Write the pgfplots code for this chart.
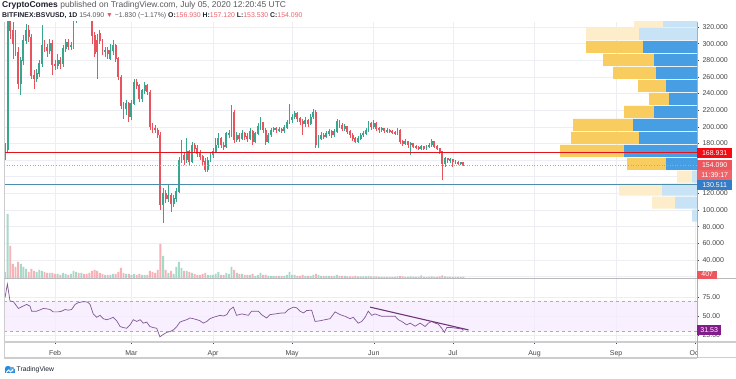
\documentclass[border=0pt]{standalone}
\usepackage{pgfplots}
\pgfplotsset{compat=1.18}
\usepackage{pgfplotstable}
\usepackage{fontspec}
\setmainfont{Liberation Sans}

\definecolor{upc}{RGB}{56,166,140}
\definecolor{dnc}{RGB}{232,84,94}
\definecolor{upv}{RGB}{165,218,200}
\definecolor{dnv}{RGB}{246,178,183}
\definecolor{gridc}{RGB}{236,238,243}
\definecolor{labc}{RGB}{70,70,70}
\definecolor{vpbs}{RGB}{72,158,226}
\definecolor{vpbf}{RGB}{200,226,246}
\definecolor{vpys}{RGB}{249,204,96}
\definecolor{vpyf}{RGB}{253,237,203}
\definecolor{lred}{RGB}{228,18,28}
\definecolor{lblue}{RGB}{78,140,172}
\definecolor{boxred}{RGB}{245,10,20}
\definecolor{boxred2}{RGB}{236,86,92}
\definecolor{boxblue}{RGB}{52,124,200}
\definecolor{boxpur}{RGB}{130,28,138}
\definecolor{rsil}{RGB}{128,88,148}
\definecolor{rsit}{RGB}{112,52,120}
\definecolor{rsib}{RGB}{246,235,254}
\definecolor{rsid}{RGB}{185,165,195}
\definecolor{tvblue}{RGB}{40,140,220}
\definecolor{hdr}{RGB}{30,34,45}
\definecolor{hdrg}{RGB}{90,90,95}
\definecolor{hred}{RGB}{238,98,108}
\definecolor{frame}{RGB}{205,205,208}

\pgfplotstableread{
d o h l c v
12 170 180 160 173 6
13 173 420 168 340 64
14 340 400 305 316 32
15 316 326 282 300 14
16 300 316 285 290 11
17 290 296 245 252 16
18 252 284 238 280 14
19 280 310 274 304 11
20 304 324 300 316 9
21 316 322 302 308 6
22 308 312 258 262 9
23 262 268 246 258 7
24 258 270 254 264 6
25 264 280 260 276 8
26 276 322 272 298 7
27 298 304 290 296 6
28 296 300 284 292 5
29 292 306 288 300 5
30 300 304 262 275 5
31 275 280 268 274 4
32 274 288 270 280 4
33 280 284 270 276 3
34 276 298 272 294 5
35 294 306 290 302 4
36 302 306 292 296 3
37 296 302 292 298 4
38 298 345 294 330 7
39 330 365 325 352 6
40 352 368 335 345 5
41 345 372 338 362 5
42 362 375 345 355 4
43 355 360 334 342 4
44 342 350 330 338 5
45 338 342 300 310 7
46 310 314 284 288 8
47 304 312 258 290 7
48 312 316 300 304 5
49 304 306 286 290 4
50 290 296 284 292 3
51 292 296 282 288 3
52 282 300 280 292 3
53 292 304 286 298 4
54 298 300 278 282 4
55 282 284 256 260 6
56 260 262 222 226 10
57 226 230 210 222 5
58 222 232 214 228 4
59 228 230 206 212 4
60 212 232 208 228 3
61 228 258 226 254 4
62 254 258 246 250 3
63 250 252 230 234 4
64 234 246 230 244 3
65 244 254 240 250 3
66 250 252 238 242 3
67 242 244 196 200 7
68 200 204 192 198 6
69 198 202 192 196 5
70 196 198 186 190 8
71 190 194 100 106 34
72 106 126 84 120 22
73 120 124 108 114 8
74 114 130 110 118 5
75 118 120 98 108 7
76 108 118 104 114 4
77 114 126 110 122 11
78 122 164 120 160 16
79 160 184 156 166 10
80 166 170 154 160 7
81 160 186 156 170 7
82 170 172 154 158 6
83 158 182 156 178 5
84 178 180 168 174 4
85 174 178 164 168 3
86 168 172 160 164 3
87 164 166 154 158 4
88 158 162 146 148 5
89 148 164 146 160 3
90 160 170 158 166 3
91 166 174 162 170 3
92 170 186 168 178 4
93 178 192 174 186 6
94 186 188 174 178 3
95 178 182 172 176 3
96 176 194 174 192 5
97 190 196 186 192 4
98 190 226 188 218 11
99 218 220 180 184 8
100 184 194 182 190 5
101 190 192 182 186 4
102 186 196 184 192 4
103 192 194 184 188 3
104 188 192 182 186 3
105 186 198 184 194 3
106 194 196 178 182 4
107 182 194 180 192 2
108 192 204 190 200 3
109 200 212 196 205 5
110 205 206 192 196 3
111 196 198 178 182 3
112 182 192 180 190 2
113 190 198 188 196 2
114 196 200 194 198 2
115 198 200 193 196 2
116 196 200 194 197 2
117 197 199 192 195 2
118 195 202 193 199 2
119 199 208 197 205 3
120 205 228 203 208 6
121 208 216 205 212 3
122 212 219 210 216 3
123 216 218 206 210 2
124 210 212 202 206 2
125 206 210 190 204 3
126 204 212 200 208 2
127 208 210 200 204 2
128 204 215 202 212 2
129 212 222 210 218 3
130 218 220 174 178 4
131 178 190 174 186 3
132 186 194 184 190 2
133 190 193 185 188 2
134 188 195 186 192 2
135 192 197 189 194 2
136 194 196 187 190 2
137 190 197 188 194 2
138 194 209 192 206 3
139 206 208 199 202 2
140 202 204 195 198 2
141 198 203 195 200 2
142 200 201 191 194 1.5
143 194 196 187 190 1.5
144 190 192 183 186 1.5
145 186 188 180 182 2
146 182 189 180 186 1.5
147 186 193 184 190 1.5
148 190 195 188 192 1.5
149 192 199 190 196 1.5
150 196 207 194 204 2
151 204 206 196 200 1.5
152 200 208 197 204 1.5
153 204 206 195 198 1.5
154 198 200 193 196 1.2
155 196 200 194 198 1.2
156 198 199 193 195 1.2
157 195 198 193 196 1.2
158 196 197 192 194 1.2
159 194 196 191 193 1.2
160 193 195 190 192 1.2
161 192 198 190 196 1.5
162 196 197 179 182 2
163 182 184 177 180 1.5
164 180 185 178 182 1.2
165 182 183 175 178 1.2
166 178 182 166 180 1.5
167 180 181 174 176 1.2
168 176 178 173 175 1.2
169 175 177 172 174 1.2
170 174 178 172 176 2.5
171 176 177 172 174 1.2
172 174 178 172 176 1.2
173 176 180 174 178 1.2
174 178 185 176 182 1.5
175 182 183 174 176 1.2
176 176 178 172 174 1.2
177 174 175 167 170 1.5
178 170 171 136 156 2.5
179 156 164 152 162 1.5
180 162 163 157 160 1.2
181 160 162 156 160.5 1.2
182 160.5 161 152 158 1.2
183 158 160 155 157 1.2
184 157 159 154 156 1
185 156 158 154 156.9 1
186 156.93 157.12 153.53 154.09 1
}\ohlc

\pgfplotstableread{
y bs bf ys yf
327.2 0 34 0 29
311.6 0 58 0 53
296.0 54 0 57 0
280.4 43 0 51 0
264.8 41 0 43 0
249.2 31 0 28 0
233.6 28 0 20 0
218.0 43 0 30 0
202.4 64 0 60 0
186.8 58 0 68 0
171.2 73 0 64 0
155.6 31 0 39 0
140.0 0 5 0 15
124.4 0 35 0 43
108.8 0 22 0 23
93.2 0 5 0 0
}\vp

\pgfplotstableread{
d r
12.0 74.4
12.9 92.2
13.9 70.0
15.2 69.1
17.1 60.2
18.3 62.4
20.2 65.5
21.5 63.3
22.1 56.7
24.0 56.7
25.3 58.4
26.5 60.2
27.8 59.8
29.1 58.9
30.3 55.8
32.2 55.8
33.5 56.7
34.8 58.9
36.0 58.0
37.3 58.9
38.6 65.5
39.8 67.8
41.7 69.1
43.3 68.7
44.3 65.5
45.5 53.1
46.8 48.7
48.1 51.3
49.3 46.9
50.6 45.6
51.9 46.9
53.1 48.7
54.4 44.2
55.7 36.7
56.9 35.3
58.2 34.4
59.5 38.9
60.7 45.6
62.0 43.3
63.3 45.6
64.5 41.1
65.8 42.4
67.0 36.7
68.3 35.3
69.6 34.4
70.8 23.3
72.1 26.4
73.4 29.1
74.6 30.0
75.9 32.2
77.2 36.7
78.4 42.4
79.7 44.2
81.0 45.6
82.2 47.8
83.5 46.9
84.8 45.6
86.0 44.2
87.3 41.1
88.6 43.3
89.8 46.9
91.1 48.7
92.4 50.0
93.6 51.3
94.9 50.4
96.2 52.2
97.4 58.9
98.7 62.0
99.9 51.3
101.9 53.1
104.4 51.3
105.6 56.7
108.2 56.7
109.4 52.2
111.3 47.8
112.6 52.2
114.5 53.1
117.0 54.4
118.3 54.4
119.6 58.9
121.5 62.0
122.7 61.1
124.0 56.7
125.3 54.4
126.5 57.5
128.4 58.0
129.7 43.3
131.6 44.2
133.5 45.6
135.4 46.9
137.3 55.8
139.2 52.2
141.1 50.0
143.0 46.9
144.2 48.7
146.1 41.1
147.4 43.3
148.7 48.7
149.9 56.7
151.2 51.3
152.5 53.1
155.0 50.0
157.5 50.0
160.1 50.0
161.3 45.6
162.6 43.3
164.5 38.9
165.8 41.1
167.7 37.1
169.6 41.1
171.5 36.7
172.7 41.1
174.0 43.3
175.3 41.1
176.5 39.7
177.8 34.4
178.8 29.1
179.7 35.3
181.6 35.3
183.5 34.4
185.4 33.5
186.0 31.53
}\rsi

\pgfplotsset{
  tvpanel/.style={scale only axis, width=693pt, xmin=11.62, xmax=274.7,
    anchor=south west},
  tvprice/.style={tvpanel, at={(4pt,101pt)}, height=256pt, ymin=18.3, ymax=326},
  candle/.style 2 args={draw=none, mark=none, forget plot,
    error bars/.cd, y dir=both, y explicit, error mark=none,
    error bar style={line width=#1, draw=#2, solid}},
}
\tikzset{
  lab/.style={anchor=west, inner xsep=1.5pt, inner ysep=0pt, minimum height=10pt,
    text=white, font=\fontsize{7}{8}\selectfont},
}

\begin{document}
\begin{tikzpicture}[x=1pt,y=1pt]
\useasboundingbox (0,0) rectangle (736,379);
\fill[white] (0,0) rectangle (736,379);

% grid of the price panel
\begin{axis}[tvprice, axis line style={draw=none}, tick style={draw=none},
  xtick={31,60,91,121,152,182,213,244,274}, ytick={20,40,...,320},
  xticklabels={}, yticklabels={}, grid=major, grid style={gridc, line width=0.6pt}]
\addplot[draw=none] coordinates {(100,100)};
\end{axis}

% visible range volume profile
\begin{axis}[tvprice, xmin=0, xmax=693, x dir=reverse, xbar stacked, bar width=14.4, hide axis]
\addplot[fill=vpbs, draw=none] table[x=bs, y=y] {\vp};
\addplot[fill=vpbf, draw=none] table[x=bf, y=y] {\vp};
\addplot[fill=vpys, draw=none] table[x=ys, y=y] {\vp};
\addplot[fill=vpyf, draw=none] table[x=yf, y=y] {\vp};
\end{axis}

% volume
\begin{axis}[tvpanel, at={(4pt,101pt)}, height=256pt, ymin=0, ymax=256, hide axis]
\addplot[ybar, bar width=1.9pt, bar shift=0pt, fill=upv, draw=none,
  restrict expr to domain={\thisrow{c}-\thisrow{o}}{0:1000}] table[x=d, y=v] {\ohlc};
\addplot[ybar, bar width=1.9pt, bar shift=0pt, fill=dnv, draw=none,
  restrict expr to domain={\thisrow{o}-\thisrow{c}}{0.001:1000}] table[x=d, y=v] {\ohlc};
\end{axis}

% candles
\begin{axis}[tvprice, axis line style={draw=none}, xtick=\empty,
  ytick={40,60,80,100,120,180,200,220,240,260,280,300,320},
  ytick pos=right, yticklabel pos=right, tick align=outside, major tick length=2pt,
  tick style={draw=labc, line width=0.4pt},
  yticklabel style={font=\fontsize{7}{8}\selectfont, text=labc,
    /pgf/number format/fixed, /pgf/number format/fixed zerofill,
    /pgf/number format/precision=3, /pgf/number format/1000 sep={},
    /pgf/number format/assume math mode=true},
  clip mode=individual]
\addplot[restrict expr to domain={\thisrow{c}-\thisrow{o}}{0:1000}, candle={0.7pt}{upc}]
  table[x=d, y=c, y error plus expr=\thisrow{h}-\thisrow{c}, y error minus expr=\thisrow{c}-\thisrow{l}] {\ohlc};
\addplot[restrict expr to domain={\thisrow{o}-\thisrow{c}}{0.001:1000}, candle={0.7pt}{dnc}]
  table[x=d, y=c, y error plus expr=\thisrow{h}-\thisrow{c}, y error minus expr=\thisrow{c}-\thisrow{l}] {\ohlc};
\addplot[restrict expr to domain={\thisrow{c}-\thisrow{o}}{0:1000}, candle={1.9pt}{upc}]
  table[x=d, y expr=(\thisrow{o}+\thisrow{c})/2, y error expr=abs(\thisrow{c}-\thisrow{o})/2+0.4] {\ohlc};
\addplot[restrict expr to domain={\thisrow{o}-\thisrow{c}}{0.001:1000}, candle={1.9pt}{dnc}]
  table[x=d, y expr=(\thisrow{o}+\thisrow{c})/2, y error expr=abs(\thisrow{c}-\thisrow{o})/2+0.4] {\ohlc};
\addplot[lred, line width=1pt] coordinates {(11.62,168.931) (274.7,168.931)};
\addplot[lblue, line width=1pt] coordinates {(11.62,130.511) (274.7,130.511)};
\addplot[boxred2!70, line width=0.6pt, dotted] coordinates {(11.62,154.09) (274.7,154.09)};
\end{axis}

% RSI panel
\begin{axis}[tvpanel, at={(4pt,37pt)}, height=64pt, ymin=16.5, ymax=100,
  axis line style={draw=none},
  xtick={31,60,91,121,152,182,213,244,274},
  xticklabels={Feb,Mar,Apr,May,Jun,Jul,Aug,Sep,Oct},
  ytick={25,50,75}, ytick pos=right, yticklabel pos=right, xtick pos=bottom,
  tick align=outside, major tick length=2pt, tick style={draw=labc, line width=0.4pt},
  grid=major, grid style={gridc, line width=0.6pt},
  xticklabel style={font=\fontsize{7}{8}\selectfont, text=labc, yshift=-3pt},
  yticklabel style={font=\fontsize{7}{8}\selectfont, text=labc,
    /pgf/number format/fixed, /pgf/number format/fixed zerofill,
    /pgf/number format/precision=2, /pgf/number format/assume math mode=true}]
\addplot[fill=rsib, fill opacity=0.75, draw=none] coordinates {(11.62,30) (274.7,30) (274.7,70) (11.62,70)} \closedcycle;
\addplot[rsid, dashed, line width=0.5pt] coordinates {(11.62,70) (274.7,70)};
\addplot[rsid, dashed, line width=0.5pt] coordinates {(11.62,30) (274.7,30)};
\addplot[rsil, line width=0.7pt] table[x=d, y=r] {\rsi};
\addplot[rsit, line width=1.1pt] coordinates {(150.6,62.0) (188.0,32.2)};
\end{axis}

% frame
\draw[frame, line width=0.6pt] (4,357) -- (4,21) -- (697,21);
\draw[frame!90!black, line width=0.8pt] (4,101) -- (736,101);
\draw[frame, line width=1.6pt] (4,37) -- (736,37);
\fill[white] (697.5,22) rectangle (736,36.2);
\draw[frame, line width=0.6pt] (4,21.3) -- (736,21.3);
\draw[frame!85!black, line width=0.6pt] (697,357) -- (697,21);

% price labels
\begin{axis}[tvprice, hide axis, clip=false]
\addplot[draw=none] coordinates {(100,100)};
\node[lab, fill=boxred, minimum width=35pt] at (axis cs:274.7,168.931) {168.931};
\node[lab, fill=boxred2, minimum width=35pt] at (axis cs:274.7,154.09) {154.090};
\node[lab, fill=boxred2!92!white, minimum width=35pt] at (axis cs:274.7,141.8) {11:39:17};
\node[lab, fill=boxblue, minimum width=35pt] at (axis cs:274.7,130.511) {130.511};
\node[lab, fill=boxred2, minimum width=20pt, minimum height=8pt] at (axis cs:274.7,22.5) {407};
\end{axis}
\begin{axis}[tvpanel, at={(4pt,37pt)}, height=64pt, ymin=16.5, ymax=100, hide axis, clip=false]
\addplot[draw=none] coordinates {(100,50)};
\node[lab, fill=boxpur, minimum width=24pt] at (axis cs:274.7,31.53) {31.53};
\end{axis}

% header
\node[anchor=west, inner sep=0pt, font=\fontsize{8.5}{10}\selectfont, text=hdrg] at (2,373.5)
  {\textcolor{hdr}{\textbf{CryptoComes}} published on TradingView.com, July 05, 2020 12:20:45 UTC};
\node[anchor=west, inner sep=0pt, font=\fontsize{6.9}{8}\selectfont, text=hdrg] at (2,363.5)
  {\textcolor{hdr}{\textbf{BITFINEX:BSVUSD, 1D}} 154.090 \textcolor{dnc}{▼} −1.830 (−1.17\%)
   \textcolor{hdr}{\textbf{O:}}\textcolor{hred}{156.930} \textcolor{hdr}{\textbf{H:}}\textcolor{hred}{157.120}
   \textcolor{hdr}{\textbf{L:}}\textcolor{hred}{153.530} \textcolor{hdr}{\textbf{C:}}\textcolor{hred}{154.090}};

% logo
\fill[tvblue] (4.5,6) rectangle (14.5,9.5);
\fill[tvblue] (8,10) circle (3.2);
\fill[tvblue!75] (12,9.6) circle (2.6);
\fill[white] (6,7.2) -- (8.5,9.6) -- (10.5,7.8) -- (13,10) -- (13,8.6) -- (10.5,6.4) -- (8.5,8.2) -- (6,5.8) -- cycle;
\node[anchor=west, inner sep=0pt, font=\fontsize{6.8}{8}\selectfont, text=hdr] at (16.5,9.5) {TradingView};
\end{tikzpicture}
\end{document}
